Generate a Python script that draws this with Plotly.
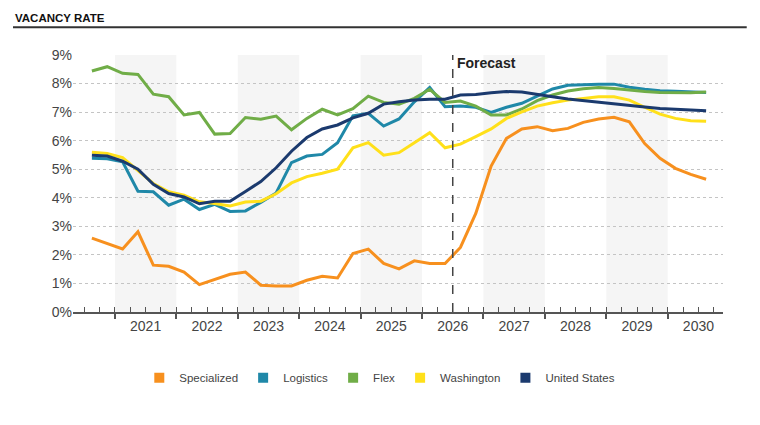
import plotly.graph_objects as go

# quarterly vacancy rate (%), 2020 Q3 .. 2030 Q3
quarters = [f"{y} Q{q}" for y in range(2020, 2031) for q in range(1, 5)][2:43]

specialized = [2.59, 2.40, 2.21, 2.81, 1.64, 1.60, 1.40, 0.96, 1.15, 1.32,
               1.40, 0.94, 0.91, 0.91, 1.11, 1.25, 1.19, 2.05, 2.20, 1.70,
               1.51, 1.79, 1.70, 1.70, 2.26, 3.45, 5.11, 6.08, 6.41, 6.49,
               6.35, 6.43, 6.64, 6.76, 6.82, 6.66, 5.90, 5.38, 5.03, 4.82, 4.65]
logistics = [5.38, 5.37, 5.26, 4.23, 4.21, 3.74, 3.95, 3.59, 3.77, 3.52,
             3.54, 3.84, 4.17, 5.23, 5.46, 5.52, 5.93, 6.87, 6.96, 6.51,
             6.76, 7.36, 7.86, 7.19, 7.21, 7.17, 6.99, 7.17, 7.31, 7.57,
             7.81, 7.94, 7.97, 7.98, 7.98, 7.87, 7.80, 7.75, 7.73, 7.70, 7.69]
flex = [8.44, 8.59, 8.36, 8.32, 7.63, 7.54, 6.90, 6.99, 6.23, 6.25,
        6.81, 6.75, 6.86, 6.38, 6.78, 7.10, 6.90, 7.12, 7.56, 7.34,
        7.28, 7.48, 7.80, 7.34, 7.39, 7.21, 6.90, 6.90, 7.11, 7.40,
        7.60, 7.74, 7.82, 7.86, 7.83, 7.77, 7.72, 7.69, 7.68, 7.68, 7.70]
washington = [5.59, 5.55, 5.41, 4.97, 4.50, 4.21, 4.09, 3.86, 3.80, 3.71,
              3.85, 3.88, 4.14, 4.52, 4.74, 4.86, 5.00, 5.75, 5.93, 5.49,
              5.58, 5.93, 6.28, 5.75, 5.88, 6.14, 6.41, 6.78, 7.01, 7.21,
              7.33, 7.42, 7.49, 7.54, 7.54, 7.42, 7.17, 6.93, 6.78, 6.70, 6.68]
united_states = [5.49, 5.46, 5.28, 5.00, 4.47, 4.15, 4.03, 3.79, 3.88, 3.88,
                 4.22, 4.57, 5.05, 5.63, 6.11, 6.41, 6.55, 6.80, 6.96, 7.28,
                 7.36, 7.42, 7.45, 7.45, 7.60, 7.62, 7.68, 7.72, 7.70, 7.63,
                 7.54, 7.46, 7.40, 7.34, 7.28, 7.22, 7.18, 7.13, 7.10, 7.07, 7.05]

years = ["2021", "2022", "2023", "2024", "2025", "2026", "2027", "2028", "2029", "2030"]
shaded_years = ["2021", "2023", "2025", "2027", "2029"]
forecast_start = "2026 Q3"
y_ticks = [0, 1, 2, 3, 4, 5, 6, 7, 8, 9]

series = [
    ("Specialized", specialized, "#F7901E"),
    ("Logistics", logistics, "#1F88A8"),
    ("Flex", flex, "#70AD47"),
    ("Washington", washington, "#FFE01A"),
    ("United States", united_states, "#1B3A6E"),
]

FONT = "Liberation Sans, Arial, sans-serif"
x = list(range(len(quarters)))


def year_start(y):
    # position of the boundary before Q1 of year y
    return quarters.index(f"{y} Q1") - 0.5


year_bounds = [year_start(y) for y in years]
year_centers = [b + 2 for b in year_bounds]
quarter_bounds = [i - 0.5 for i in x] + [x[-1] + 0.5]
fc_x = quarters.index(forecast_start) - 0.5
xrange = [-1.23, 41.1]

fig = go.Figure()

for name, vals, color in series:
    fig.add_trace(go.Scatter(x=x, y=vals, mode="lines", name=name,
                             line=dict(color=color, width=3),
                             text=quarters, hovertemplate="%{text}: %{y:.1f}%<extra>" + name + "</extra>",
                             showlegend=False))
# square legend keys (on the overlay axis so it gets drawn)
for name, vals, color in series:
    fig.add_trace(go.Scatter(x=[None], y=[None], mode="markers", name=name, xaxis="x2",
                             marker=dict(symbol="square", size=10, color=color)))

for y in shaded_years:
    fig.add_shape(type="rect", xref="x", yref="y", x0=year_start(y), x1=year_start(y) + 4,
                  y0=0, y1=9, fillcolor="#f5f5f5", line_width=0, layer="below")

fig.add_shape(type="line", xref="x", yref="y", x0=fc_x, x1=fc_x, y0=0, y1=9,
              line=dict(color="#444444", width=1.5, dash="dash"))
fig.add_annotation(x=fc_x, y=9, xref="x", yref="y", text="<b>Forecast</b>", showarrow=False,
                   xanchor="left", yanchor="top", xshift=2, yshift=2,
                   font=dict(family=FONT, size=14, color="#222222"))

# rule under the title
fig.add_shape(type="line", xref="paper", yref="paper", x0=-0.0923, x1=1.0365, y0=1.108, y1=1.108,
              line=dict(color="#333333", width=2))

# page body has an 8px margin, so the figure is sized to fit the window
fig.update_layout(
    width=752, height=417,
    margin=dict(l=65, r=37, t=47, b=113),
    paper_bgcolor="white", plot_bgcolor="white",
    font=dict(family=FONT, color="#444444"),
    title=dict(text="<b>VACANCY RATE</b>", xref="container", yref="container",
               x=7 / 752, xanchor="left", y=1 - 10 / 417, yanchor="middle",
               font=dict(family=FONT, size=11.5, color="#111111")),
    showlegend=True,
    legend=dict(orientation="h", x=0.472, xanchor="center", y=-0.256, yanchor="middle",
                font=dict(family=FONT, size=11.5, color="#444444"), itemwidth=30),
    xaxis=dict(range=xrange, showgrid=False, zeroline=False,
               showline=True, linecolor="#555555", linewidth=2,
               tickmode="array", tickvals=year_centers, ticktext=years, ticks="",
               tickfont=dict(family=FONT, size=14, color="#444444"),
               minor=dict(tickmode="array", tickvals=year_bounds, ticks="outside",
                          ticklen=5, tickwidth=2, tickcolor="#555555", showgrid=False)),
    xaxis2=dict(range=xrange, overlaying="x", anchor="y", side="bottom",
                showgrid=False, zeroline=False, showticklabels=False,
                tickmode="array", tickvals=quarter_bounds, ticks="inside",
                ticklen=5, tickwidth=1, tickcolor="#555555"),
    yaxis=dict(range=[0, 9], tickmode="array", tickvals=y_ticks,
               ticktext=[f"{v}%" for v in y_ticks],
               showgrid=True, gridcolor="#c4c4c4", griddash="dot", gridwidth=1,
               zeroline=False, showline=False, ticks="",
               tickfont=dict(family=FONT, size=14, color="#444444")),
)

fig.write_html("out.html")
